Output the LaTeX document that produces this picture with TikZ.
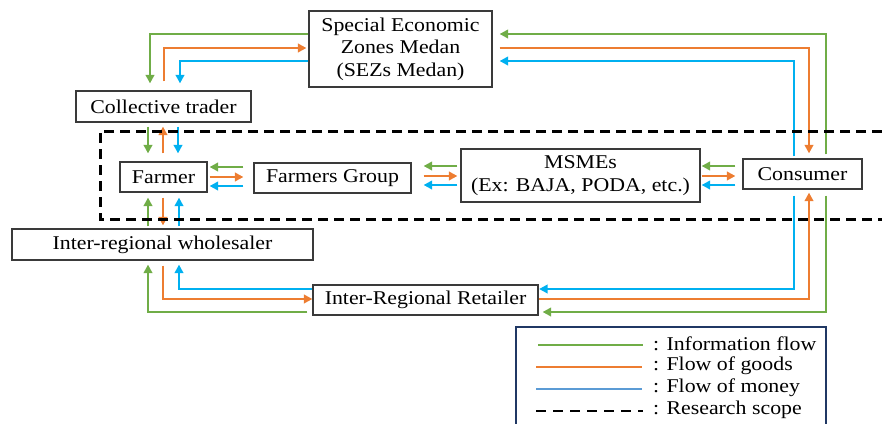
\documentclass[tikz,border=0pt]{standalone}
\usepackage{fontspec}
\setmainfont{Liberation Serif}[FakeStretch=1.12]
\usetikzlibrary{arrows.meta}
\definecolor{infogreen}{HTML}{70AD47}
\definecolor{goodsorange}{HTML}{ED7D31}
\definecolor{moneyblue}{HTML}{00B0F0}
\definecolor{legendblue}{HTML}{5B9BD5}
\definecolor{framegray}{HTML}{3A3A3A}
\definecolor{legendframe}{HTML}{203864}
\begin{document}
\begin{tikzpicture}[x=1pt,y=-1pt,
  every node/.style={font=\fontsize{19.5}{22.5}\selectfont},
  actor/.style={draw=framegray, line width=1.2pt, fill=white, inner sep=0pt, align=center},
  flow/.style={line width=2.7pt, -{Triangle[length=8.5pt,width=8.5pt]}},
  info/.style={flow, draw=infogreen},
  goods/.style={flow, draw=goodsorange},
  money/.style={flow, draw=moneyblue},
  scopeline/.style={draw=black, line width=3pt, dash pattern=on 10pt off 6pt},
  legendtext/.style={anchor=west, inner sep=0pt}
]
\useasboundingbox (0,0) rectangle (882,423);

% actors
\node[actor, minimum width=183pt, minimum height=76pt] (sez) at (400.5,49)
  {Special Economic\\Zones Medan\\(SEZs Medan)};
\node[actor, minimum width=175pt, minimum height=31pt] (ct) at (163.5,106.5) {Collective trader};
\node[actor, minimum width=87pt, minimum height=30pt] (farmer) at (163.5,177) {Farmer};
\node[actor, minimum width=157pt, minimum height=30pt] (fg) at (332.5,178) {Farmers Group};
\node[actor, minimum width=239pt, minimum height=53pt] (msme) at (580.5,175.5)
  {MSMEs\\(Ex: BAJA, PODA, etc.)};
\node[actor, minimum width=119pt, minimum height=30pt] (cons) at (802.5,174) {Consumer};
\node[actor, minimum width=301pt, minimum height=31pt] (wh) at (162.5,244.5) {Inter-regional wholesaler};
\node[actor, minimum width=225pt, minimum height=30pt] (ret) at (425.5,300) {Inter-Regional Retailer};

% SEZ <-> collective trader
\draw[info, shorten >=7pt] ([yshift=15pt]sez.west) -| ([xshift=-13.5pt]ct.north);
\draw[goods, shorten <=9pt, shorten >=2pt] ([xshift=0.5pt]ct.north) |- ([yshift=1pt]sez.west);
\draw[money, shorten >=7pt] ([yshift=-12pt]sez.west) -| ([xshift=16.5pt]ct.north);

% SEZ <-> consumer
\draw[info, shorten <=4pt, shorten >=7pt] ([xshift=23.5pt]cons.north) |- ([yshift=15pt]sez.east);
\draw[goods, shorten <=7pt, shorten >=5pt] ([yshift=1pt]sez.east) -| ([xshift=6.5pt]cons.north);
\draw[money, shorten <=2pt, shorten >=7pt] ([xshift=-8.5pt]cons.north) |- ([yshift=-12pt]sez.east);

% collective trader <-> farmer
\draw[info, shorten <=4pt, shorten >=8pt] ([xshift=-15.5pt]ct.south) -- ([xshift=-15.5pt]farmer.north);
\draw[goods, shorten <=8pt, shorten >=4pt] ([xshift=-0.5pt]farmer.north) -- ([xshift=-0.5pt]ct.south);
\draw[money, shorten <=4pt, shorten >=8pt] ([xshift=14.5pt]ct.south) -- ([xshift=14.5pt]farmer.north);

% farmer <-> inter-regional wholesaler
\draw[info, shorten <=2pt, shorten >=5pt] ([xshift=-15.5pt]farmer.south |- wh.north) -- ([xshift=-15.5pt]farmer.south);
\draw[goods, shorten <=5pt, shorten >=3pt] ([xshift=-0.5pt]farmer.south) -- ([xshift=-0.5pt]farmer.south |- wh.north);
\draw[money, shorten <=2pt, shorten >=5pt] ([xshift=15.5pt]farmer.south |- wh.north) -- ([xshift=15.5pt]farmer.south);

% farmer <-> farmers group
\draw[info, shorten <=10pt, shorten >=2pt] ([yshift=10pt]farmer.east -| fg.west) -- ([yshift=10pt]farmer.east);
\draw[goods, shorten <=2pt, shorten >=10pt] (farmer.east) -- (farmer.east -| fg.west);
\draw[money, shorten <=10pt, shorten >=2pt] ([yshift=-9pt]farmer.east -| fg.west) -- ([yshift=-9pt]farmer.east);

% farmers group <-> MSMEs
\draw[info, shorten <=3pt, shorten >=12pt] ([yshift=9.5pt]msme.west) -- ([yshift=9.5pt]msme.west -| fg.east);
\draw[goods, shorten <=12pt, shorten >=3pt] ([yshift=-0.5pt]msme.west -| fg.east) -- ([yshift=-0.5pt]msme.west);
\draw[money, shorten <=3pt, shorten >=12pt] ([yshift=-9.5pt]msme.west) -- ([yshift=-9.5pt]msme.west -| fg.east);

% MSMEs <-> consumer
\draw[info, shorten <=7pt, shorten >=1pt] ([yshift=9.5pt]msme.east -| cons.west) -- ([yshift=9.5pt]msme.east);
\draw[goods, shorten <=1pt, shorten >=7pt] ([yshift=-0.5pt]msme.east) -- ([yshift=-0.5pt]msme.east -| cons.west);
\draw[money, shorten <=7pt, shorten >=1pt] ([yshift=-9.5pt]msme.east -| cons.west) -- ([yshift=-9.5pt]msme.east);

% inter-regional wholesaler <-> inter-regional retailer
\draw[info, shorten <=5pt, shorten >=4pt] ([yshift=-12pt]ret.west) -| ([xshift=-14.5pt]wh.south);
\draw[goods, shorten <=5pt] ([xshift=0.5pt]wh.south) |- ([yshift=1pt]ret.west);
\draw[money, shorten >=4pt] ([yshift=11pt]ret.west) -| ([xshift=16.5pt]wh.south);

% consumer <-> inter-regional retailer
\draw[money, shorten <=6pt, shorten >=0.5pt] ([xshift=-8.5pt]cons.south) |- ([yshift=11pt]ret.east);
\draw[goods, shorten >=3pt] ([yshift=1pt]ret.east) -| ([xshift=6.5pt]cons.south);
\draw[info, shorten <=6pt, shorten >=4pt] ([xshift=23.5pt]cons.south) |- ([yshift=-12pt]ret.east);

% research scope
\draw[scopeline] (882,131) -- (100,131) -- (100,219) -- (882,219);

% legend
\begin{scope}
  \clip (0,0) rectangle (882,423);
  \draw[legendframe, line width=1.7pt] (516,440) -- (516,327) -- (826,327) -- (826,440);
\end{scope}
\draw[infogreen, line width=2.8pt] (538,345) -- (643,345);
\draw[goodsorange, line width=2.8pt] (536,367) -- (642,367);
\draw[legendblue, line width=2.8pt] (536,389) -- (642,389);
\draw[black, line width=2.8pt, dash pattern=on 10pt off 7pt] (536,411) -- (643,411);
\node[legendtext] (lgi) at (653,344) {: Information flow};
\node[legendtext] (lgg) at (653,366) {: Flow of goods};
\node[legendtext] (lgm) at (653,388) {: Flow of money};
\node[legendtext] (lgs) at (653,410) {: Research scope};
\end{tikzpicture}
\end{document}
